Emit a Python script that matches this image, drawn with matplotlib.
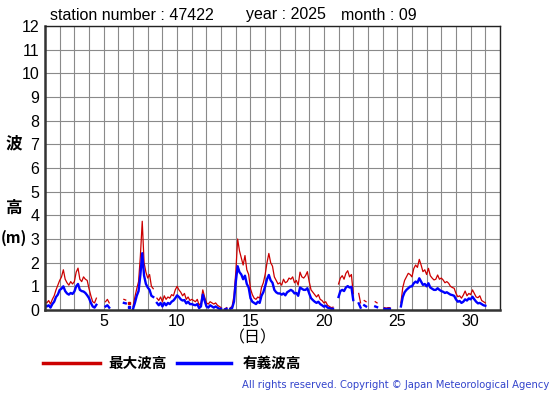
import numpy as np
import matplotlib
matplotlib.use("Agg")
import matplotlib.pyplot as plt

nan = np.nan
# 3-hourly values (8 per day), days 1..30, plus first slot of day 31
hmax_by_day = [
    [0.35, 0.3, 0.4, 0.25, 0.45, 0.6, 0.85, 1.05],
    [1.25, 1.4, 1.7, 1.3, 1.15, 1.05, 1.2, 1.1],
    [1.2, 1.6, 1.77, 1.3, 1.2, 1.4, 1.3, 1.25],
    [0.9, 0.6, 0.35, 0.3, 0.5, nan, nan, nan],
    [nan, 0.35, 0.45, 0.3, nan, nan, nan, nan],
    [nan, nan, nan, 0.45, 0.42, nan, 0.3, nan],
    [0.15, 0.55, 0.9, 1.2, 2.3, 3.75, 2.0, 1.6],
    [1.35, 1.5, 1.0, 0.9, nan, 0.5, 0.4, 0.55],
    [0.35, 0.6, 0.45, 0.55, 0.5, 0.65, 0.6, 0.85],
    [1.0, 0.85, 0.75, 0.6, 0.7, 0.45, 0.55, 0.4],
    [0.45, 0.4, 0.35, 0.45, 0.2, 0.3, 0.85, 0.55],
    [0.3, 0.25, 0.35, 0.3, 0.25, 0.3, 0.2, 0.15],
    [0.1, nan, 0.05, 0.1, nan, 0.1, 0.15, 0.6],
    [1.6, 3.0, 2.5, 2.2, 1.9, 2.3, 1.7, 1.5],
    [0.9, 0.65, 0.5, 0.45, 0.55, 0.5, 0.95, 1.15],
    [1.5, 2.0, 2.39, 2.0, 1.85, 1.4, 1.25, 1.1],
    [1.15, 1.05, 1.3, 1.15, 1.2, 1.35, 1.3, 1.4],
    [1.15, 1.25, 1.05, 1.6, 1.4, 1.35, 1.45, 1.62],
    [1.2, 0.85, 0.75, 0.65, 0.55, 0.65, 0.45, 0.4],
    [0.3, 0.35, 0.2, 0.15, 0.1, 0.12, nan, nan],
    [1.1, 1.35, 1.45, 1.3, 1.55, 1.66, 1.4, 1.5],
    [0.7, nan, nan, 0.7, 0.3, nan, 0.4, 0.35],
    [nan, nan, nan, nan, 0.35, 0.3, nan, nan],
    [nan, 0.1, 0.08, 0.1, 0.1, nan, nan, nan],
    [nan, nan, 0.3, 0.95, 1.25, 1.4, 1.55, 1.5],
    [1.4, 1.75, 1.9, 1.8, 2.14, 1.9, 1.62, 1.7],
    [1.5, 1.76, 1.45, 1.35, 1.27, 1.3, 1.48, 1.3],
    [1.35, 1.27, 1.15, 1.2, 1.13, 1.0, 0.95, 0.92],
    [0.7, 0.56, 0.6, 0.5, 0.63, 0.8, 0.6, 0.7],
    [0.65, 0.85, 0.7, 0.55, 0.52, 0.6, 0.4, 0.35],
    [0.3],
]
hsig_by_day = [
    [0.2, 0.15, 0.2, 0.1, 0.25, 0.35, 0.55, 0.65],
    [0.85, 0.9, 1.0, 0.8, 0.7, 0.65, 0.72, 0.68],
    [0.78, 1.0, 1.1, 0.85, 0.8, 0.78, 0.72, 0.62],
    [0.5, 0.3, 0.15, 0.1, 0.22, nan, nan, nan],
    [nan, 0.15, 0.2, 0.1, nan, nan, nan, nan],
    [nan, nan, nan, 0.3, 0.28, nan, 0.14, nan],
    [0.05, 0.3, 0.6, 0.8, 1.5, 2.4, 1.45, 1.1],
    [0.95, 0.85, 0.6, 0.55, nan, 0.3, 0.2, 0.3],
    [0.15, 0.3, 0.2, 0.3, 0.25, 0.35, 0.4, 0.5],
    [0.62, 0.55, 0.45, 0.4, 0.42, 0.28, 0.35, 0.25],
    [0.25, 0.22, 0.2, 0.25, 0.08, 0.15, 0.65, 0.4],
    [0.15, 0.1, 0.2, 0.15, 0.1, 0.15, 0.1, 0.05],
    [0.05, nan, 0.02, 0.05, nan, 0.05, 0.08, 0.35],
    [1.2, 1.85, 1.6, 1.5, 1.3, 1.45, 1.1, 0.95],
    [0.5, 0.35, 0.3, 0.25, 0.35, 0.3, 0.6, 0.75],
    [1.0, 1.3, 1.48, 1.25, 1.15, 0.85, 0.75, 0.7],
    [0.7, 0.65, 0.7, 0.62, 0.75, 0.8, 0.85, 0.8],
    [0.7, 0.72, 0.6, 0.95, 0.9, 0.85, 0.85, 0.92],
    [0.7, 0.5, 0.42, 0.35, 0.3, 0.35, 0.25, 0.2],
    [0.14, 0.18, 0.1, 0.08, 0.05, 0.05, nan, nan],
    [0.55, 0.8, 0.85, 0.8, 0.95, 1.01, 0.95, 0.98],
    [0.42, nan, nan, 0.28, 0.1, nan, 0.2, 0.15],
    [nan, nan, nan, nan, 0.15, 0.12, nan, nan],
    [nan, 0.05, 0.04, 0.05, 0.05, nan, nan, nan],
    [nan, nan, 0.15, 0.55, 0.75, 0.85, 0.92, 0.99],
    [1.0, 1.13, 1.2, 1.15, 1.34, 1.2, 1.06, 1.1],
    [1.0, 1.13, 0.95, 0.9, 0.85, 0.85, 0.92, 0.85],
    [0.8, 0.77, 0.72, 0.75, 0.7, 0.65, 0.63, 0.6],
    [0.45, 0.35, 0.38, 0.3, 0.35, 0.45, 0.4, 0.49],
    [0.45, 0.56, 0.45, 0.35, 0.28, 0.3, 0.25, 0.2],
    [0.18],
]
x_ticks = [5, 10, 15, 20, 25, 30]
y_ticks = list(range(0, 13))

hmax = np.array([v for day in hmax_by_day for v in day], dtype=float)
hsig = np.array([v for day in hsig_by_day for v in day], dtype=float)
t = 1 + np.arange(len(hmax)) / 8.0


def isolated(a):
    ok = ~np.isnan(a)
    prev_nan = np.concatenate([[True], ~ok[:-1]])
    next_nan = np.concatenate([~ok[1:], [True]])
    return ok & prev_nan & next_nan


W, H = 555, 395
fig = plt.figure(figsize=(W / 100, H / 100), dpi=100)


def fx(x):
    return x / W


def fy(y):
    return 1 - y / H


ax = fig.add_axes([fx(45), fy(310), fx(500) - fx(45), fy(26) - fy(310)])
ax.set_xlim(1, 32)
ax.set_ylim(0, 12)
ax.set_xticks(np.arange(1, 33))
ax.set_yticks(y_ticks)
ax.grid(True, color="#8a8a8a", linewidth=0.8)
ax.set_axisbelow(True)
ax.tick_params(length=0, labelbottom=False, labelleft=True, pad=4)
ax.set_yticklabels([str(v) for v in y_ticks], fontfamily="Liberation Sans", fontsize=11.5)
for s in ["left", "bottom"]:
    ax.spines[s].set_linewidth(1.8)
    ax.spines[s].set_color("#333333")
for s in ["top", "right"]:
    ax.spines[s].set_linewidth(1.0)
    ax.spines[s].set_color("#222222")

ax.plot(t, hmax, color="#cc0000", linewidth=0.9)
ax.plot(t, hsig, color="#0000ff", linewidth=1.7)
mi = isolated(hmax)
ax.plot(t[mi], hmax[mi], linestyle="none", marker="s", markersize=1.5, color="#cc0000")
mi = isolated(hsig)
ax.plot(t[mi], hsig[mi], linestyle="none", marker="s", markersize=2.0, color="#0000ff")

for v in x_ticks:
    ax.text(v, -0.15, str(v), ha="center", va="top", fontsize=11.5,
            fontfamily="Liberation Sans", transform=ax.transData, clip_on=False)

cjk = ["Noto Sans CJK JP", "DejaVu Sans"]
fig.text(fx(253), fy(338), "（日）", ha="center", va="center", fontsize=11.5, family=cjk)
fig.text(fx(14), fy(143), "波", ha="center", va="center", fontsize=12, family=cjk, fontweight="bold")
fig.text(fx(14), fy(208), "高", ha="center", va="center", fontsize=12, family=cjk, fontweight="bold")
fig.text(fx(14), fy(238), "(m)", ha="center", va="center", fontsize=11, family=cjk, fontweight="bold")

fig.text(fx(50), fy(15), "station number : 47422", ha="left", va="center",
         fontsize=11.5, fontfamily="Liberation Sans")
fig.text(fx(246), fy(15), "year : 2025", ha="left", va="center",
         fontsize=11.5, fontfamily="Liberation Sans")
fig.text(fx(341), fy(15), "month : 09", ha="left", va="center",
         fontsize=11.5, fontfamily="Liberation Sans")

# legend
fig.add_artist(plt.Line2D([fx(43), fx(100)], [fy(363), fy(363)], color="#cc0000", linewidth=2.5))
fig.text(fx(108), fy(363), "最大波高", ha="left", va="center", fontsize=10.5, family=cjk, fontweight="bold")
fig.add_artist(plt.Line2D([fx(177), fx(231)], [fy(363), fy(363)], color="#0000ff", linewidth=2.5))
fig.text(fx(243), fy(363), "有義波高", ha="left", va="center", fontsize=10.5, family=cjk, fontweight="bold")

fig.text(fx(549), fy(385), "All rights reserved. Copyright © Japan Meteorological Agency",
         ha="right", va="center", fontsize=7.2, color="#3344cc", fontfamily="DejaVu Sans")

fig.savefig("out.png", dpi=100)
